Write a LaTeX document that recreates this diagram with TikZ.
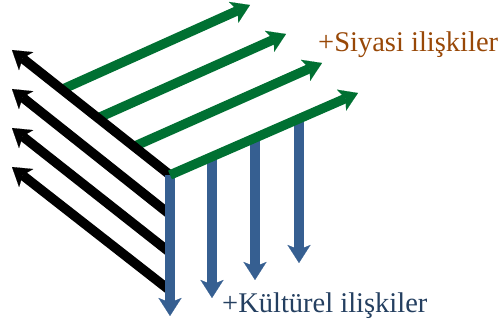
\documentclass[tikz,border=0pt]{standalone}
\usepackage{fontspec}
\setmainfont{Liberation Serif}
\usetikzlibrary{arrows.meta}
\definecolor{relgreen}{RGB}{0,112,50}
\definecolor{relblue}{RGB}{54,95,145}
\definecolor{relbrown}{RGB}{152,72,7}
\definecolor{relnavy}{RGB}{36,63,96}
\tikzset{
  thickarrow/.style={line width=9.5pt, -{Stealth[length=18pt,width=23pt,inset=4.5pt,line width=0.1pt]}},
  blackarrow/.style={thickarrow, draw=black, fill=black},
  greenarrow/.style={thickarrow, draw=relgreen, fill=relgreen},
  bluearrow/.style={thickarrow, draw=relblue, fill=relblue},
  label/.style={inner sep=0pt, anchor=base west, font=\fontsize{28.5}{31}\selectfont}
}
\begin{document}
\begin{tikzpicture}[x=1pt,y=-1pt]
\useasboundingbox (0,0) rectangle (499,320);

% tails of the green arrows sit on the uppermost black arrow
\coordinate (g1) at (62,89.5);
\coordinate (g2) at (98,118);
\coordinate (g3) at (134,146.5);
\coordinate (g4) at (170,175);
\coordinate (gt1) at (250,5);
\coordinate (gt2) at (286,34);
\coordinate (gt3) at (322,63);
\coordinate (gt4) at (358,93);

% black arrows
\coordinate (b1) at (170,175);
\coordinate (b2) at (168,213);
\coordinate (b3) at (168,251);
\coordinate (b4) at (168,289);
\coordinate (bt1) at (12,50);
\coordinate (bt2) at (12,89);
\coordinate (bt3) at (12,128);
\coordinate (bt4) at (12,167);

% blue arrows hang from the front green arrow
\coordinate (u1) at (170,175);
\coordinate (u2) at (212,156);
\coordinate (u3) at (255,137);
\coordinate (u4) at (299,117);
\coordinate (ut1) at (170,316);
\coordinate (ut2) at (212,298);
\coordinate (ut3) at (255,280);
\coordinate (ut4) at (299,263);

\draw[greenarrow] (g1) -- (gt1);
\draw[greenarrow] (g2) -- (gt2);
\draw[greenarrow] (g3) -- (gt3);

\draw[blackarrow] (b1) -- (bt1);
\draw[blackarrow] (b2) -- (bt2);
\draw[blackarrow] (b3) -- (bt3);
\draw[blackarrow] (b4) -- (bt4);

\draw[bluearrow] (u1) -- (ut1);
\draw[bluearrow] (u2) -- (ut2);
\draw[bluearrow] (u3) -- (ut3);
\draw[bluearrow] (u4) -- (ut4);

\draw[greenarrow] (g4) -- (gt4);

\node[label, text=relbrown] (siyasi) at (318,52) {+Siyasi ilişkiler};
\node[label, text=relnavy] (kultur) at (222,313) {+Kültürel ilişkiler};
\end{tikzpicture}
\end{document}
